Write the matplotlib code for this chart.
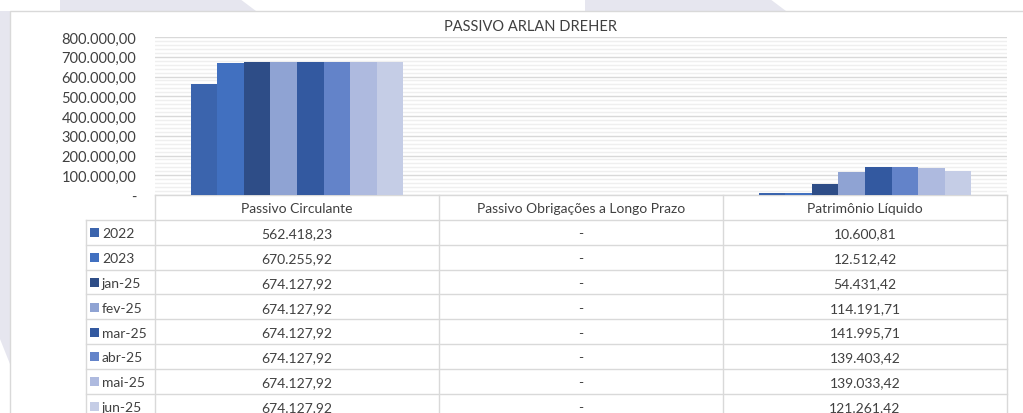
import matplotlib
matplotlib.use("Agg")
import matplotlib.pyplot as plt
from matplotlib.patches import Polygon, Rectangle
from matplotlib.ticker import MultipleLocator, FuncFormatter

plt.rcParams['font.family'] = ['Lato', 'DejaVu Sans']

# data
categories = ["Passivo Circulante", "Passivo Obrigações a Longo Prazo", "Patrimônio Líquido"]
periods = ["2022", "2023", "jan-25", "fev-25", "mar-25", "abr-25", "mai-25", "jun-25"]
passivo_circulante = [562418.23, 670255.92, 674127.92, 674127.92, 674127.92, 674127.92, 674127.92, 674127.92]
passivo_longo_prazo = [0, 0, 0, 0, 0, 0, 0, 0]
patrimonio_liquido = [10600.81, 12512.42, 54431.42, 114191.71, 141995.71, 139403.42, 139033.42, 121261.42]
colors = ["#3B64AD", "#4170C0", "#2E4D87", "#8FA3D3", "#3359A0", "#6383C9", "#AEBADF", "#C5CDE6"]

series = [[passivo_circulante[j], passivo_longo_prazo[j], patrimonio_liquido[j]] for j in range(len(periods))]


def br(v):
    if v == 0:
        return "-"
    s = f"{v:,.2f}"
    return s.replace(",", "X").replace(".", ",").replace("X", ".")


W, H = 1023, 414
fig = plt.figure(figsize=(W / 100, H / 100), dpi=100)

# overlay in pixel coords (background, border, title, table)
bg = fig.add_axes([0, 0, 1, 1], zorder=0)
bg.set_xlim(0, W)
bg.set_ylim(H, 0)
bg.axis("off")

lav = "#E6E6EF"
bg.add_patch(Polygon([(60, 0), (240, 0), (256, 12), (60, 12)], color=lav, lw=0))
bg.add_patch(Polygon([(585, 0), (770, 0), (786, 12), (585, 12)], color=lav, lw=0))
bg.add_patch(Polygon([(0, 12), (10, 12), (10, 365), (0, 340)], color=lav, lw=0))
bg.add_patch(Rectangle((10, 12), W, H, facecolor="white", edgecolor="#D9D9D9", lw=1))

bg.text(531, 27, "PASSIVO ARLAN DREHER", ha="center", va="center", fontsize=10.5, color="#404040")

# table layout
x_leg, x0, x1 = 86, 155, 1007
top, hdr_h, row_h = 196, 25, 24.8
col_w = (x1 - x0) / len(categories)
line_c = "#D9D9D9"
txt_c = "#404040"

n_rows = len(periods)
y_bottom = top + hdr_h + row_h * n_rows
for i in range(len(categories) + 1):
    bg.plot([x0 + i * col_w] * 2, [top, y_bottom], color=line_c, lw=1)
bg.plot([x_leg, x_leg], [top + hdr_h, y_bottom], color=line_c, lw=1)
bg.plot([x0, x1], [top, top], color=line_c, lw=1)
for r in range(n_rows + 1):
    y = top + hdr_h + r * row_h
    bg.plot([x_leg, x1], [y, y], color=line_c, lw=1)

for i, c in enumerate(categories):
    bg.text(x0 + (i + 0.5) * col_w, top + hdr_h / 2 + 1, c, ha="center", va="center", fontsize=10, color=txt_c)

for r, p in enumerate(periods):
    yc = top + hdr_h + (r + 0.5) * row_h + 1
    bg.add_patch(Rectangle((x_leg + 4, yc - 5), 9, 9, color=colors[r], lw=0))
    bg.text(x_leg + 16, yc, p, ha="left", va="center", fontsize=10, color=txt_c)
    for i in range(len(categories)):
        bg.text(x0 + (i + 0.5) * col_w, yc, br(series[r][i]), ha="center", va="center", fontsize=10, color=txt_c)

# bar chart
ax = fig.add_axes([x0 / W, (H - top) / H, (x1 - x0) / W, (top - 38) / H], zorder=1)
ax.set_facecolor("none")
bw = 0.0935
xs = list(range(len(categories)))
for j, p in enumerate(periods):
    ax.bar([x + (j - 3.5) * bw for x in xs], series[j], width=bw, color=colors[j], lw=0, zorder=3)

ax.set_xlim(-0.5, len(categories) - 0.5)
ax.set_ylim(0, 800000)
ax.yaxis.set_major_locator(MultipleLocator(100000))
ax.yaxis.set_minor_locator(MultipleLocator(20000))
ax.yaxis.set_major_formatter(FuncFormatter(lambda v, pos: br(v)))
ax.grid(axis="y", which="major", color="#D9D9D9", lw=1)
ax.grid(axis="y", which="minor", color="#EFEFEF", lw=1)
ax.set_axisbelow(True)
ax.set_xticks([])
for s in ax.spines.values():
    s.set_visible(False)
ax.tick_params(axis="y", which="both", length=0, pad=13.5, labelsize=10.5, labelcolor="#404040")

fig.savefig("out.png", dpi=100)
